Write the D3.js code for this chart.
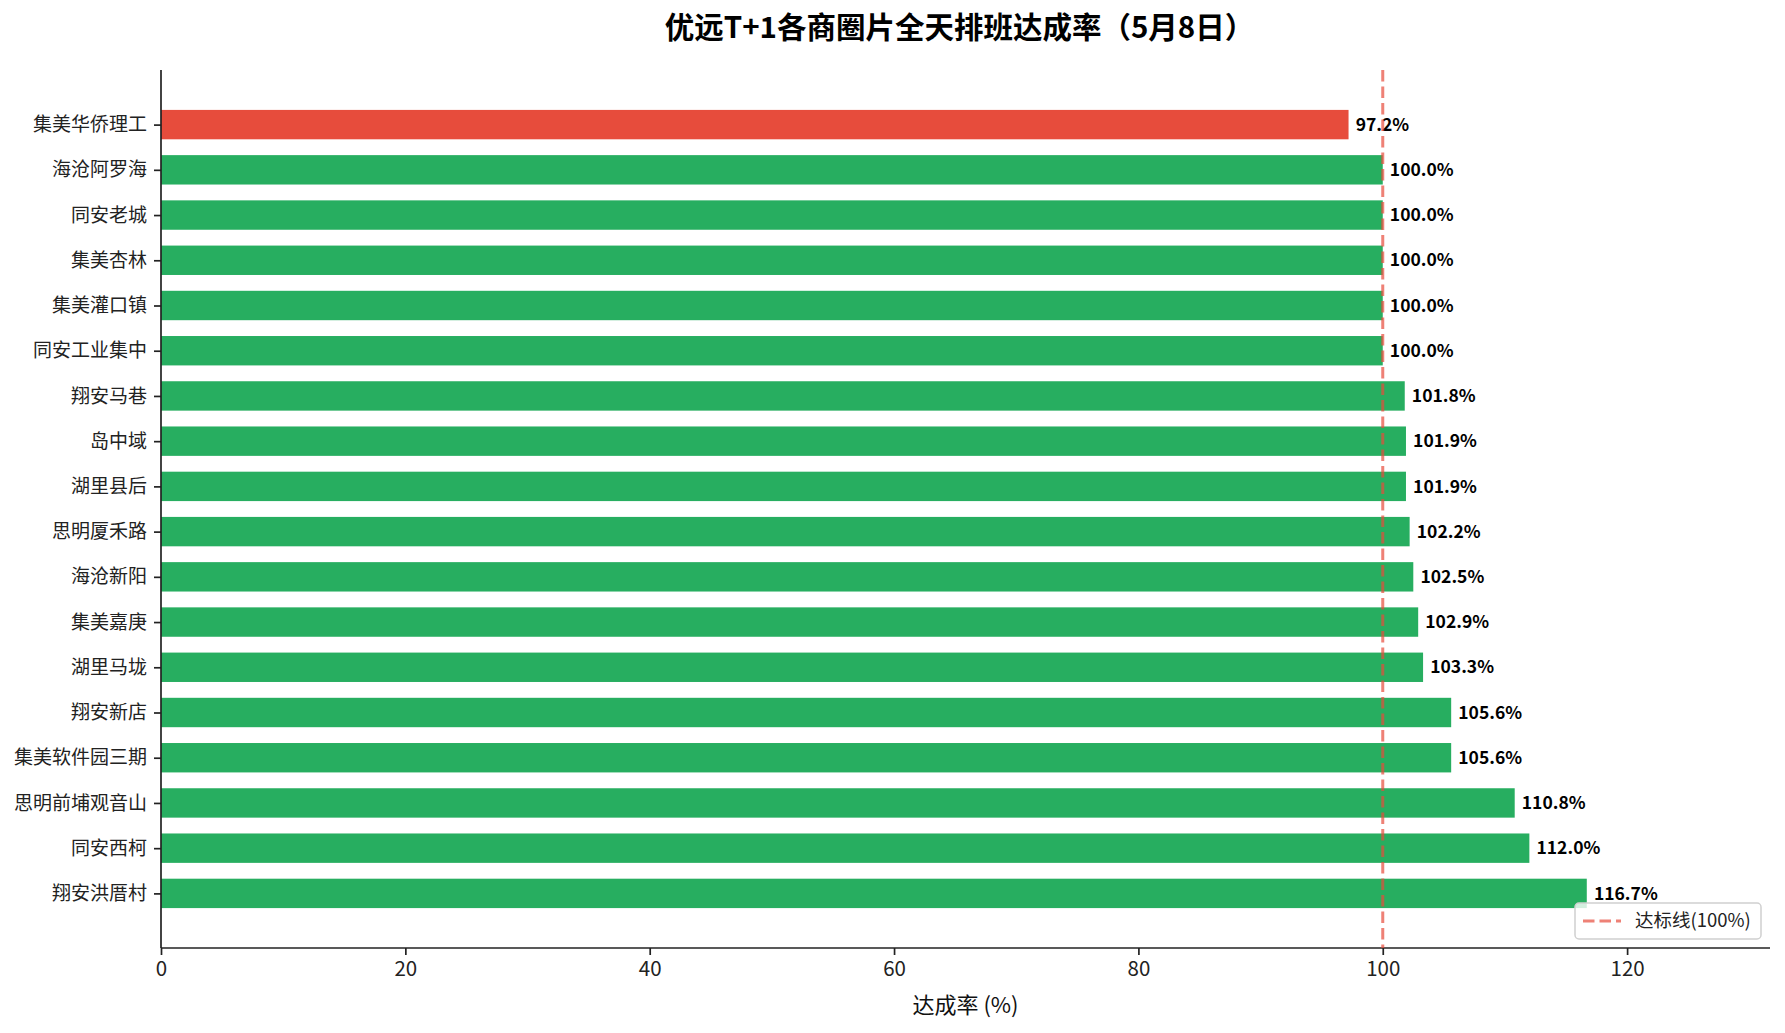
<!DOCTYPE html>
<html>
<head>
<meta charset="utf-8">
<script src="https://cdn.jsdelivr.net/npm/d3@7"></script>
<style>
  body { margin: 0; background: #fff; }
  text { font-family: "Noto Sans CJK SC", "Noto Sans", sans-serif; }
</style>
</head>
<body>
<script>
// bar chart: 达成率 per 商圈, sorted top to bottom
var areas = ["集美华侨理工", "海沧阿罗海", "同安老城", "集美杏林", "集美灌口镇", "同安工业集中",
  "翔安马巷", "岛中域", "湖里县后", "思明厦禾路", "海沧新阳", "集美嘉庚", "湖里马垅",
  "翔安新店", "集美软件园三期", "思明前埔观音山", "同安西柯", "翔安洪厝村"];
var rates = [97.2, 100.0, 100.0, 100.0, 100.0, 100.0, 101.8, 101.9, 101.9, 102.2,
  102.5, 102.9, 103.3, 105.6, 105.6, 110.8, 112.0, 116.7];
var xTicks = [0, 20, 40, 60, 80, 100, 120];
var target = 100;

var outerWidth = 1785,
  outerHeight = 1033,
  margin = {top: 70, right: 15, bottom: 85, left: 161},
  width = outerWidth - margin.left - margin.right,
  height = outerHeight - margin.top - margin.bottom;

var barHeight = 0.65;

window.onload = function() {
  var svg = d3.select("body").append("svg")
      .attr("width", outerWidth)
      .attr("height", outerHeight);

  var g = svg.append("g")
      .attr("transform", "translate(" + margin.left + "," + margin.top + ")");

  var xMax = d3.max(rates) * 1.1285;
  var xScale = d3.scaleLinear()
    .domain([0, xMax])
    .range([0, width]);

  // same margins as matplotlib: 5% around the bar extents
  var n = areas.length;
  var ext = (n - 1) + barHeight;
  var yScale = d3.scaleLinear()
    .domain([-barHeight / 2 - ext * 0.05, n - 1 + barHeight / 2 + ext * 0.05])
    .range([0, height]);
  var unit = yScale(1) - yScale(0);

  drawBars(g, xScale, yScale, unit);
  drawAxes(g, xScale, yScale);
  drawTarget(g, xScale);
  drawLegend(g);

  svg.append("text")
    .attr("x", margin.left + width / 2 - 6)
    .attr("y", 38)
    .attr("text-anchor", "middle")
    .style("font-size", "29.5px")
    .style("font-weight", "bold")
    .attr("fill", "#000")
    .text("优远T+1各商圈片全天排班达成率（5月8日）");

  svg.append("text")
    .attr("x", margin.left + width / 2)
    .attr("y", 1013)
    .attr("text-anchor", "middle")
    .style("font-size", "22px")
    .attr("fill", "#111")
    .text("达成率 (%)");
};

function drawBars(g, xScale, yScale, unit) {
  g.selectAll("rect.bar")
    .data(rates)
    .enter()
    .append("rect")
    .attr("class", "bar")
    .attr("x", xScale(0))
    .attr("y", function(d, i) { return yScale(i) - unit * barHeight / 2; })
    .attr("width", function(d) { return xScale(d) - xScale(0); })
    .attr("height", unit * barHeight)
    .attr("fill", function(d) { return d < target ? "#e74c3c" : "#27ae60"; });

  g.selectAll("text.val")
    .data(rates)
    .enter()
    .append("text")
    .attr("class", "val")
    .attr("x", function(d) { return xScale(d + 0.5) + 1; })
    .attr("y", function(d, i) { return yScale(i); })
    .attr("dy", "0.35em")
    .style("font-size", "17.5px")
    .style("font-weight", "bold")
    .attr("fill", "#000")
    .text(function(d) { return d.toFixed(1) + "%"; });
}

function drawAxes(g, xScale, yScale) {
  var xAxis = d3.axisBottom(xScale)
    .tickValues(xTicks)
    .tickSize(7)
    .tickPadding(6);

  var yAxis = d3.axisLeft(yScale)
    .tickValues(d3.range(areas.length))
    .tickFormat(function(i) { return areas[i]; })
    .tickSize(7)
    .tickPadding(7);

  var xg = g.append("g")
    .attr("transform", "translate(0," + height + ")")
    .call(xAxis);
  xg.select(".domain").attr("d", "M0,0H" + width);

  var yg = g.append("g").call(yAxis);
  yg.select(".domain").attr("d", "M0,0V" + height);

  [xg, yg].forEach(function(ax) {
    ax.select(".domain").attr("stroke", "#222").attr("stroke-width", 1.7);
    ax.selectAll(".tick line").attr("stroke", "#222").attr("stroke-width", 1.7);
    ax.selectAll(".tick text")
      .attr("fill", "#222")
      .style("font-family", "'Noto Sans CJK SC', sans-serif");
  });
  xg.selectAll(".tick text").style("font-size", "20.5px");
  yg.selectAll(".tick text").style("font-size", "19px");
}

function drawTarget(g, xScale) {
  g.append("line")
    .attr("x1", xScale(target))
    .attr("x2", xScale(target))
    .attr("y1", 0)
    .attr("y2", height)
    .attr("stroke", "#e74c3c")
    .attr("stroke-opacity", 0.7)
    .attr("stroke-width", 3)
    .attr("stroke-dasharray", "11.5,5");
}

function drawLegend(g) {
  var w = 186, h = 36;
  var lg = g.append("g")
    .attr("transform", "translate(" + (width - 9 - w) + "," + (height - 9 - h) + ")");

  lg.append("rect")
    .attr("width", w)
    .attr("height", h)
    .attr("rx", 4)
    .attr("fill", "#fff")
    .attr("fill-opacity", 0.8)
    .attr("stroke", "#d0d0d0")
    .attr("stroke-width", 1.5);

  lg.append("line")
    .attr("x1", 8)
    .attr("x2", 46)
    .attr("y1", h / 2)
    .attr("y2", h / 2)
    .attr("stroke", "#e74c3c")
    .attr("stroke-opacity", 0.7)
    .attr("stroke-width", 3)
    .attr("stroke-dasharray", "11.5,5");

  lg.append("text")
    .attr("x", 60)
    .attr("y", h / 2)
    .attr("dy", "0.35em")
    .style("font-size", "18.5px")
    .attr("fill", "#222")
    .text("达标线(100%)");
}
</script>
</body>
</html>
